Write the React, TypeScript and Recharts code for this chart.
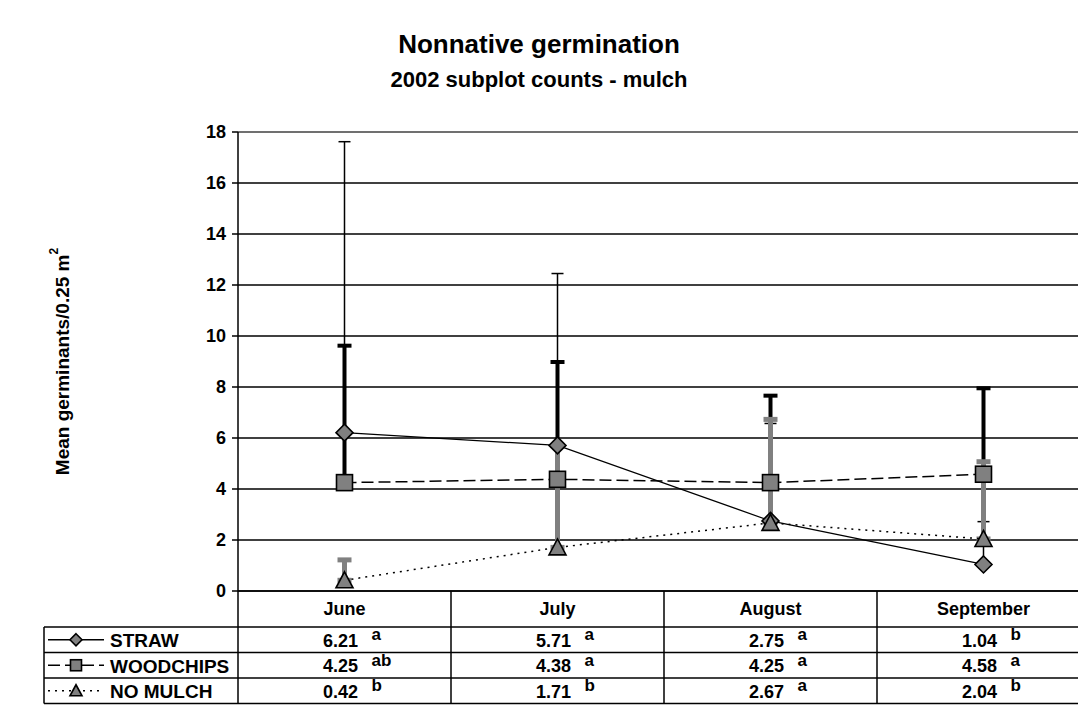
import React from "react";
import {
    LineChart,
    Line,
    XAxis,
    YAxis,
    CartesianGrid,
    ErrorBar,
    ReferenceLine,
} from "recharts";

const months = ["June", "July", "August", "September"];

const strawMeans = [6.21, 5.71, 2.75, 1.04];
const woodchipsMeans = [4.25, 4.38, 4.25, 4.58];
const noMulchMeans = [0.42, 1.71, 2.67, 2.04];

// top of each error bar (bars only go upward)
const strawUpper = [17.62, 12.45, 6.57, 2.72];
const woodchipsUpper = [9.62, 8.98, 7.66, 7.95];
const noMulchUpper = [1.22, 5.7, 6.73, 5.07];

// significance letters shown next to each mean in the table
const strawLetters = ["a", "a", "a", "b"];
const woodchipsLetters = ["ab", "a", "a", "a"];
const noMulchLetters = ["b", "b", "a", "b"];

const yTicks = [0, 2, 4, 6, 8, 10, 12, 14, 16, 18];

const FONT = '"Liberation Sans", Arial, Helvetica, sans-serif';
const GREY = "#808080";

// plot geometry
const PLOT_LEFT = 238;
const PLOT_TOP = 132;
const PLOT_W = 852;
const PLOT_H = 459;
const CHART_W = 1100;
const CHART_H = 719;
const COL_W = PLOT_W / months.length;
const HEAD_H = 36;
const ROW_H = 25.5;
const LABEL_COL_W = 194;

const data = months.map((month, i) => ({
    month,
    straw: strawMeans[i],
    woodchips: woodchipsMeans[i],
    noMulch: noMulchMeans[i],
    strawErr: [0, +(strawUpper[i] - strawMeans[i]).toFixed(2)],
    woodchipsErr: [0, +(woodchipsUpper[i] - woodchipsMeans[i]).toFixed(2)],
    noMulchErr: [0, +(noMulchUpper[i] - noMulchMeans[i]).toFixed(2)],
}));

type Shape = "diamond" | "square" | "triangle";

const series = [
    { name: "STRAW", means: strawMeans, letters: strawLetters, shape: "diamond" as Shape, dash: undefined as string | undefined },
    { name: "WOODCHIPS", means: woodchipsMeans, letters: woodchipsLetters, shape: "square" as Shape, dash: "12 5" },
    { name: "NO MULCH", means: noMulchMeans, letters: noMulchLetters, shape: "triangle" as Shape, dash: "2 5" },
];

function Marker({ shape, cx, cy, r = 8.5 }: { shape: Shape; cx: number; cy: number; r?: number }) {
    const common = { fill: GREY, stroke: "#000", strokeWidth: 1.6 };
    if (cx == null || cy == null) return null;
    if (shape === "diamond") {
        return (
            <polygon
                points={`${cx},${cy - r} ${cx + r},${cy} ${cx},${cy + r} ${cx - r},${cy}`}
                {...common}
            />
        );
    }
    if (shape === "square") {
        return <rect x={cx - r + 0.5} y={cy - r + 0.5} width={2 * r - 1} height={2 * r - 1} {...common} />;
    }
    return (
        <polygon
            points={`${cx},${cy - r} ${cx + r},${cy + r - 1} ${cx - r},${cy + r - 1}`}
            {...common}
        />
    );
}

const dotFor = (shape: Shape) => (p: any) =>
    <Marker key={`${shape}-${p.index}`} shape={shape} cx={p.cx} cy={p.cy} />;

const textStyle = { fontFamily: FONT, fontWeight: 700, fill: "#000" };

// data table drawn under each category: header month, means and letters
function TableColumn(props: any) {
    const { x, y, payload } = props;
    const i = payload.index;
    const left = x - COL_W / 2;
    const right = x + COL_W / 2;
    const bottom = y + HEAD_H + series.length * ROW_H;
    const labelLeft = left - LABEL_COL_W;

    return (
        <g>
            <line x1={left} y1={y} x2={left} y2={bottom} stroke="#000" strokeWidth={1.5} />
            {i === months.length - 1 && (
                <line x1={right} y1={y} x2={right} y2={bottom} stroke="#000" strokeWidth={1.5} />
            )}
            <text x={x} y={y + HEAD_H / 2} textAnchor="middle" dominantBaseline="central" fontSize={18} {...textStyle}>
                {payload.value}
            </text>
            <line x1={left} y1={y + HEAD_H} x2={right} y2={y + HEAD_H} stroke="#000" strokeWidth={1.5} />
            {series.map((s, r) => {
                const top = y + HEAD_H + r * ROW_H;
                const mid = top + ROW_H / 2;
                return (
                    <g key={s.name}>
                        <line x1={left} y1={top + ROW_H} x2={right} y2={top + ROW_H} stroke="#000" strokeWidth={1.5} />
                        <text x={x - 4} y={mid + 1} textAnchor="middle" dominantBaseline="central" fontSize={18} {...textStyle}>
                            {s.means[i].toFixed(2)}
                        </text>
                        <text x={x + 27} y={mid - 5} dominantBaseline="central" fontSize={17} {...textStyle}>
                            {s.letters[i]}
                        </text>
                    </g>
                );
            })}
            {i === 0 && (
                <g>
                    <line x1={labelLeft} y1={y + HEAD_H} x2={labelLeft} y2={bottom} stroke="#000" strokeWidth={1.5} />
                    <line x1={labelLeft} y1={y + HEAD_H} x2={left} y2={y + HEAD_H} stroke="#000" strokeWidth={1.5} />
                    {series.map((s, r) => {
                        const top = y + HEAD_H + r * ROW_H;
                        const mid = top + ROW_H / 2;
                        return (
                            <g key={s.name}>
                                <line x1={labelLeft} y1={top + ROW_H} x2={left} y2={top + ROW_H} stroke="#000" strokeWidth={1.5} />
                                <line
                                    x1={labelLeft + 4}
                                    y1={mid}
                                    x2={labelLeft + 60}
                                    y2={mid}
                                    stroke="#000"
                                    strokeWidth={1.3}
                                    strokeDasharray={s.dash}
                                />
                                <Marker shape={s.shape} cx={labelLeft + 32} cy={mid} r={6} />
                                <text x={labelLeft + 66} y={mid + 1} dominantBaseline="central" fontSize={19} {...textStyle}>
                                    {s.name}
                                </text>
                            </g>
                        );
                    })}
                </g>
            )}
        </g>
    );
}

function YTitle(props: any) {
    const vb = props.viewBox || {};
    const cx = (vb.x ?? 0) + 62;
    const cy = (vb.y ?? PLOT_TOP) + (vb.height ?? PLOT_H) / 2;
    return (
        <text
            x={cx}
            y={cy}
            transform={`rotate(-90 ${cx} ${cy})`}
            textAnchor="middle"
            dominantBaseline="central"
            fontSize={19}
            {...textStyle}
        >
            Mean germinants/0.25 m<tspan dy={-8} fontSize={12}>2</tspan>
        </text>
    );
}

export default function App() {
    return (
        <div style={pageStyle}>
            <div style={{ ...titleStyle, top: 28, fontSize: 26, lineHeight: "32px" }}>Nonnative germination</div>
            <div style={{ ...titleStyle, top: 66, fontSize: 22, lineHeight: "28px" }}>2002 subplot counts - mulch</div>
            <div style={{ position: "absolute", left: 0, top: 0 }}>
                <LineChart
                    width={CHART_W}
                    height={CHART_H}
                    data={data}
                    margin={{ top: PLOT_TOP, right: CHART_W - PLOT_LEFT - PLOT_W, bottom: 16, left: 0 }}
                >
                    <CartesianGrid vertical={false} stroke="#000" strokeWidth={1.5} />
                    <ReferenceLine y={18} stroke={GREY} strokeWidth={1.5} />
                    <XAxis
                        dataKey="month"
                        scale="band"
                        height={CHART_H - PLOT_TOP - PLOT_H - 16}
                        axisLine={{ stroke: "#000", strokeWidth: 1.5 }}
                        tickLine={false}
                        tickSize={0}
                        tickMargin={0}
                        interval={0}
                        tick={<TableColumn />}
                    />
                    <YAxis
                        type="number"
                        domain={[0, 18]}
                        ticks={yTicks}
                        interval={0}
                        width={PLOT_LEFT}
                        tickSize={6}
                        tickMargin={6}
                        axisLine={{ stroke: "#000", strokeWidth: 1.5 }}
                        tickLine={{ stroke: "#000", strokeWidth: 1.5 }}
                        tick={{ fontSize: 18, fontWeight: 700, fill: "#000", fontFamily: FONT }}
                        label={<YTitle />}
                    />

                    {/* error bars first so every marker sits on top of them */}
                    <Line dataKey="straw" stroke="none" dot={false} activeDot={false} isAnimationActive={false} legendType="none">
                        <ErrorBar dataKey="strawErr" direction="y" width={6} stroke="#000" strokeWidth={1.5} isAnimationActive={false} />
                    </Line>
                    <Line dataKey="woodchips" stroke="none" dot={false} activeDot={false} isAnimationActive={false} legendType="none">
                        <ErrorBar dataKey="woodchipsErr" direction="y" width={7} stroke="#000" strokeWidth={4} isAnimationActive={false} />
                    </Line>
                    <Line dataKey="noMulch" stroke="none" dot={false} activeDot={false} isAnimationActive={false} legendType="none">
                        <ErrorBar dataKey="noMulchErr" direction="y" width={7} stroke={GREY} strokeWidth={5} isAnimationActive={false} />
                    </Line>

                    <Line dataKey="straw" stroke="#000" strokeWidth={1.3} dot={dotFor("diamond")} activeDot={false} isAnimationActive={false} />
                    <Line dataKey="woodchips" stroke="#000" strokeWidth={1.5} strokeDasharray="12 5" dot={dotFor("square")} activeDot={false} isAnimationActive={false} />
                    <Line dataKey="noMulch" stroke="#000" strokeWidth={1.5} strokeDasharray="2 5" dot={dotFor("triangle")} activeDot={false} isAnimationActive={false} />
                </LineChart>
            </div>
        </div>
    );
}

const pageStyle: React.CSSProperties = {
    position: "fixed",
    left: 0,
    top: 0,
    width: 1078,
    height: 719,
    overflow: "hidden",
    background: "#fff",
    fontFamily: FONT,
};

const titleStyle: React.CSSProperties = {
    position: "absolute",
    left: 0,
    width: 1078,
    textAlign: "center",
    fontWeight: 700,
    color: "#000",
    zIndex: 1,
};
